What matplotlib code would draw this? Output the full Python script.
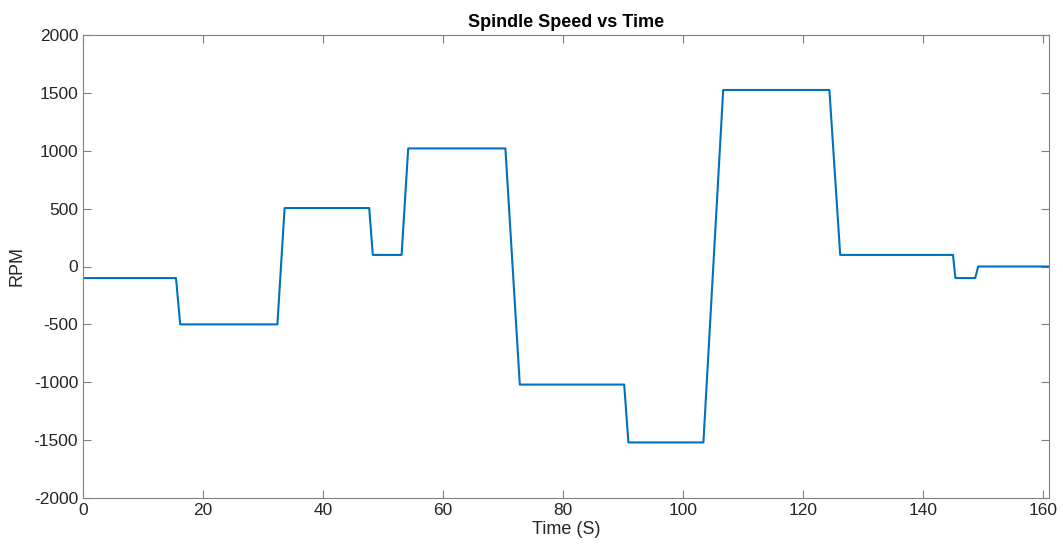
import matplotlib
matplotlib.use("Agg")
import matplotlib.pyplot as plt
import matplotlib.ticker as ticker

# Breakpoints of the spindle speed trace.
time_s = [0, 15.5, 16.2, 32.4, 33.6, 47.7, 48.3, 53.1, 54.2, 70.4, 72.8,
          90.2, 90.9, 103.4, 106.7, 124.4, 126.2, 145.0, 145.4, 148.7, 149.2, 161]
rpm = [-100, -100, -500, -500, 505, 505, 100, 100, 1020, 1020, -1020,
       -1020, -1520, -1520, 1525, 1525, 100, 100, -100, -100, 0, 0]

x_ticks = [0, 20, 40, 60, 80, 100, 120, 140, 160]
y_ticks = [-2000, -1500, -1000, -500, 0, 500, 1000, 1500, 2000]

plt.rcParams["font.family"] = ["Liberation Sans", "DejaVu Sans"]

W, H = 1063, 552
fig = plt.figure(figsize=(W / 100, H / 100), dpi=100)
ax = fig.add_axes([83 / W, (H - 498) / H, (1049 - 83) / W, (498 - 35) / H])

ax.plot(time_s, rpm, color="#0072BD", linewidth=1.5)

ax.set_xlim(0, 161)
ax.set_ylim(-2000, 2000)
ax.set_xticks(x_ticks)
ax.set_yticks(y_ticks)
ax.yaxis.set_major_formatter(ticker.FuncFormatter(lambda y, _: "{:g}".format(y)))

axis_grey = "#262626"
for side in ["left", "right", "top", "bottom"]:
    ax.spines[side].set_color("#808080")
    ax.spines[side].set_linewidth(0.8)
ax.tick_params(direction="in", length=6, width=0.8, color="#808080",
               labelcolor=axis_grey, labelsize=12.5,
               top=True, right=True)

ax.set_xlabel("Time (S)", fontsize=13, color=axis_grey, labelpad=2)
ax.set_ylabel("RPM", fontsize=13, color=axis_grey, labelpad=6)
ax.set_title("Spindle Speed vs Time", fontsize=13, fontweight="bold", pad=6)

fig.savefig("out.png", dpi=100)
